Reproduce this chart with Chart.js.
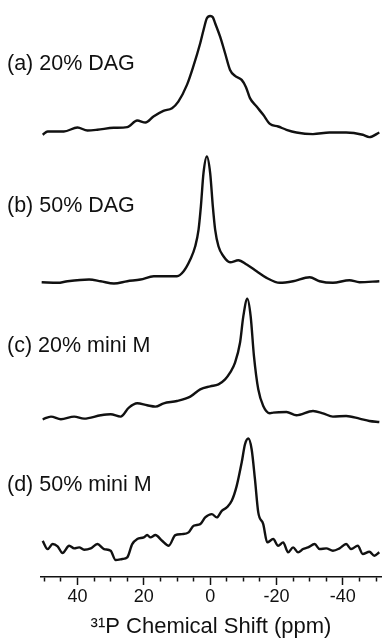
<!DOCTYPE html>
<html>
<head>
<meta charset="utf-8">
<script src="https://cdn.jsdelivr.net/npm/chart.js@4"></script>
<style>
  html, body { margin: 0; padding: 0; background: #fff; }
  #wrap { width: 382px; height: 640px; position: relative; }
</style>
</head>
<body>
<div id="wrap"><canvas id="c"></canvas></div>
<script>
// 31P chemical shift (ppm) and intensity (a.u., 0 = baseline) for each spectrum
const ppmA = [50.5, 49, 44.1, 40, 37, 34, 29.1, 25, 22, 19.5, 17.1, 14.1, 11.5, 9.6, 7, 5.1, 3, 2, 1, 0, -0.8, -1.5, -3, -4.5, -6, -7.5, -9.5, -10.8, -12, -14, -16, -18, -20.5, -23, -26, -31, -36, -41, -46, -48, -51];
const intA = [-2, 1.3, 1.3, 5.3, 2.3, 3, 5, 5.7, 12.3, 10.3, 16.3, 22, 24.7, 31.3, 48, 66.3, 89.7, 103, 114.7, 117, 115.7, 109.7, 96.3, 79.7, 63, 57, 53, 45.7, 34.7, 26.3, 18, 9, 6.3, 3, 0.3, -1.3, 0.3, 0.3, -2, -4.3, 0.3];

const ppmB = [50.8, 46, 43, 36.5, 33, 29, 25, 21, 17, 13, 10, 8, 6, 4.5, 3.5, 2.8, 2, 1, 0, -0.8, -1.5, -2.5, -4, -6, -8.5, -11, -14, -17, -21, -25, -30, -33, -37, -42, -45, -51];
const intB = [0.3, -0.3, 1.3, 3, 1.3, -1, 1.3, 3, 6.3, 6.3, 6.3, 11.3, 23, 36.3, 53, 76.3, 110, 126.3, 109.7, 76.3, 53, 36.3, 26.3, 20.3, 22.3, 18, 11.3, 4.7, -0.3, 1.3, 5.3, 1.3, -0.3, 2.3, 0.3, 1.3];

const ppmC = [50.5, 48, 45, 41, 38, 33, 30, 27, 24.5, 22, 19, 16.5, 14, 10, 6, 3, 0, -2.5, -4.5, -6, -7.5, -9, -10, -11.2, -12.2, -13.2, -14.5, -16, -18, -19, -23, -26, -31, -34, -37, -41, -45, -48, -51];
const intC = [0, 2.7, 0, 2.7, 0.7, 4, 5, 2.7, 11.7, 16, 14, 12.7, 16, 18.3, 22.7, 30, 33, 35, 40, 46.7, 56.7, 76.7, 103.3, 120.7, 103.3, 63.3, 30, 13.3, 6, 6.7, 7.3, 4, 8.3, 6, 2.7, 3.3, 0.7, -1.7, -2.7];

const ppmD = [50.5, 49, 47.5, 46, 44.5, 42.5, 41, 39.5, 38, 36, 34, 32, 30, 28.5, 26.5, 25, 23.5, 22, 20, 19, 18, 16.5, 14.5, 12.5, 10.5, 8.5, 6.5, 5, 3, 1.5, -0.5, -2, -3.5, -5, -6.5, -8, -9.5, -10.5, -11.5, -12.5, -13.5, -14.5, -16, -17.2, -19, -20.5, -22, -23.5, -25, -26.5, -28, -29.5, -31.5, -33, -35, -37, -39, -41, -42.5, -44.5, -46, -48, -49.5, -51];
const intD = [6.3, -2, 3, 0.7, -6, 1.3, -1.3, -0.3, -2.7, -1.3, 3, -2, -3.7, -13, -12, -10.3, 3, 8, 9.7, 12, 9.7, 12, 6.3, 1.3, 12, 13, 14.7, 21.3, 23, 29.7, 33, 29.7, 36.3, 39.7, 46.3, 61.3, 84.7, 103, 108.7, 98, 68, 34.7, 23, 4.7, 8, 1.3, 4.7, -5.3, -0.3, -5.3, -2, -0.3, 3, -2, -1.3, -3.7, -1.3, 3, -2, 1.3, -7, -4.7, -8.7, -5.3];

const panelLabels = ['(a) 20% DAG', '(b) 50% DAG', '(c) 20% mini M', '(d) 50% mini M'];
const labelLevels = [68.5, 76.5, 73.5, 62.5];
const xTitle = '\u00B3\u00B9P Chemical Shift (ppm)';

const FONT = "'Liberation Sans', Arial, Helvetica, sans-serif";
const INK = '#111';

function toPoints(xs, ys) {
  return xs.map((x, i) => ({ x: x, y: ys[i] }));
}

function spectrum(xs, ys, axis) {
  return {
    data: toPoints(xs, ys),
    yAxisID: axis,
    borderColor: INK,
    borderWidth: 2.4,
    pointRadius: 0,
    cubicInterpolationMode: 'monotone',
    fill: false,
    clip: false
  };
}

function panelAxis(min, max) {
  return {
    type: 'linear',
    position: 'left',
    stack: 'spec',
    stackWeight: 1,
    min: min,
    max: max,
    display: false
  };
}

const panelAxes = ['ya', 'yb', 'yc', 'yd'];

// panel labels, placed with each panel's own y scale
const labelPlugin = {
  id: 'panelLabels',
  afterDraw(chart) {
    const ctx = chart.ctx;
    ctx.save();
    ctx.fillStyle = INK;
    ctx.font = '21.5px ' + FONT;
    ctx.textBaseline = 'middle';
    ctx.textAlign = 'left';
    panelAxes.forEach((id, i) => {
      const y = chart.scales[id].getPixelForValue(labelLevels[i]);
      ctx.fillText(panelLabels[i], 7, y);
    });
    ctx.restore();
  }
};

new Chart(document.getElementById('c'), {
  type: 'line',
  data: {
    datasets: [
      spectrum(ppmA, intA, 'ya'),
      spectrum(ppmB, intB, 'yb'),
      spectrum(ppmC, intC, 'yc'),
      spectrum(ppmD, intD, 'yd')
    ]
  },
  options: {
    responsive: true,
    maintainAspectRatio: false,
    animation: false,
    layout: { padding: { top: 14, left: 41, right: 1, bottom: 0 } },
    plugins: {
      legend: { display: false },
      tooltip: { enabled: false }
    },
    scales: {
      x: {
        type: 'linear',
        reverse: true,
        min: -51.5,
        max: 51,
        border: { display: true, color: INK, width: 1.5 },
        grid: {
          drawOnChartArea: false,
          drawTicks: true,
          tickLength: 8,
          tickColor: INK,
          tickWidth: 1.5,
          tickBorderDash: (c) => (c.tick && c.tick.value % 20 === 0) ? [] : [4, 40]
        },
        ticks: {
          stepSize: 5,
          includeBounds: false,
          autoSkip: false,
          maxRotation: 0,
          padding: 1,
          color: INK,
          font: { family: FONT, size: 18 },
          callback: (v) => (v % 20 === 0) ? String(v) : ''
        },
        title: {
          display: true,
          text: xTitle,
          color: INK,
          font: { family: FONT, size: 22 },
          padding: { top: 5, bottom: 0 }
        }
      },
      // left boxes are stacked last-first, so the bottom panel comes first
      yd: panelAxis(-30, 111),
      yc: panelAxis(-17, 124),
      yb: panelAxis(-13, 128),
      ya: panelAxis(-22, 119)
    }
  },
  plugins: [labelPlugin]
});
</script>
</body>
</html>
